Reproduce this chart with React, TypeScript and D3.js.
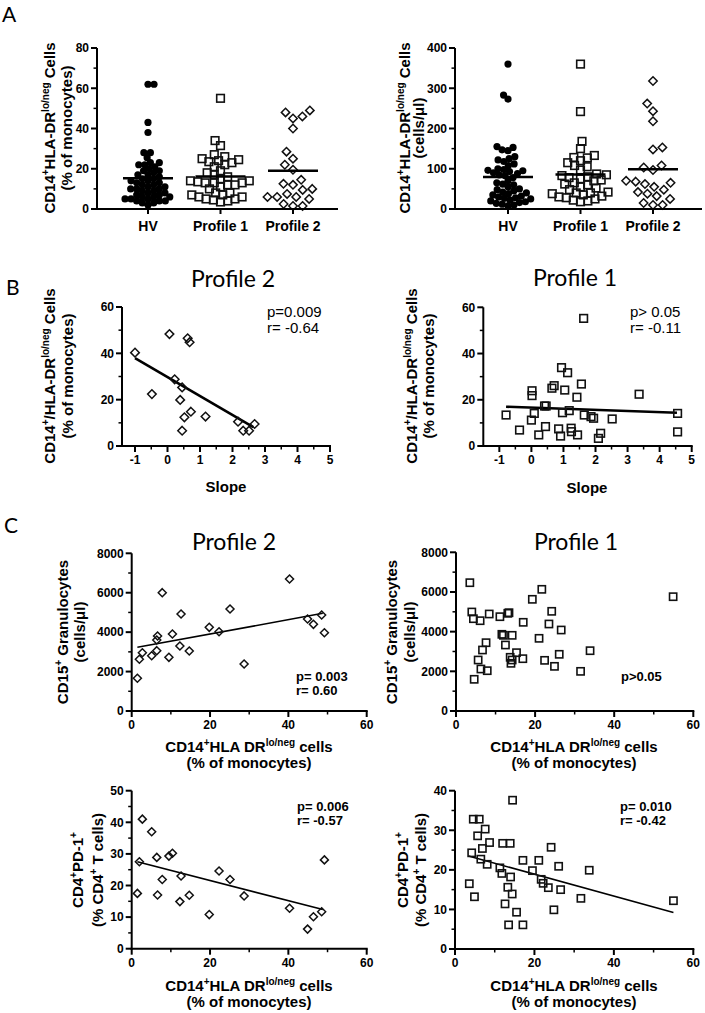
import React from 'react';
import * as d3 from 'd3';

// ---------- Panel A data ----------
const groups = ['HV', 'Profile 1', 'Profile 2'];
const pctHV = [62, 62, 43, 38, 28, 28, 25.5, 23, 23, 22, 22, 21, 20, 19, 19, 18, 17, 17, 16, 15, 15, 14, 14, 13, 13, 12, 12, 11, 11, 10, 10, 10, 9, 9, 8, 8, 7, 7, 6, 6, 6, 5, 5, 5, 4, 4, 4, 3, 3, 2];
const pctP1 = [55, 34, 31.5, 27, 26, 25, 24.5, 24, 23.5, 23, 22, 21, 19, 18, 17, 16, 15, 14, 14, 13.5, 13, 13, 13, 12, 12, 11, 10, 8, 8, 7, 7, 6, 6, 5, 5, 4.5, 4, 3.5];
const pctP2 = [49, 48, 46, 45, 40, 28.5, 25, 22, 19.5, 14.5, 12.5, 12, 10, 9.5, 7.5, 6, 6, 6, 5, 2.5, 1.5, 1.5];
const pctMeans = [15.3, 16.2, 19.0];
const cellsHV = [360, 283, 273, 155, 153, 147, 145, 130, 125, 122, 118, 112, 108, 100, 98, 96, 95, 93, 90, 88, 85, 83, 78, 70, 65, 62, 60, 55, 50, 48, 45, 42, 40, 38, 35, 32, 30, 28, 27, 25, 22, 20, 18, 16, 14, 12, 10, 8];
const cellsP1 = [360, 242, 168, 150, 133, 128, 127, 120, 115, 108, 105, 97, 87, 85, 83, 80, 78, 75, 72, 70, 65, 62, 60, 55, 52, 48, 42, 40, 40, 38, 35, 32, 30, 28, 25, 22, 20, 18];
const cellsP2 = [318, 262, 243, 218, 153, 148, 108, 103, 97, 70, 68, 65, 62, 55, 48, 42, 38, 32, 25, 15, 10, 10];
const cellsMeans = [79.5, 86, 99];
const pctTicks = [0, 20, 40, 60, 80];
const cellsTicks = [0, 100, 200, 300, 400];

// ---------- Panel B data ----------
const slopeB2 = [-1.0, -0.48, 0.06, 0.22, 0.39, 0.45, 0.45, 0.52, 0.62, 0.68, 0.72, 1.17, 2.17, 2.33, 2.51, 2.68];
const pctB2 = [40.3, 22.4, 48.3, 28.8, 19.9, 25.3, 6.6, 12.4, 46.5, 44.8, 14.8, 12.7, 10.5, 6.6, 6.6, 9.5];
const fitB2x = [-1.0, 2.64];
const fitB2y = [37.9, 8.1];
const slopeB1 = [-0.79, -0.37, 0.0, 0.02, 0.02, 0.09, 0.23, 0.41, 0.46, 0.44, 0.64, 0.71, 0.85, 0.91, 0.94, 0.97, 1.04, 1.13, 1.18, 1.24, 1.25, 1.44, 1.42, 1.56, 1.63, 1.65, 1.86, 1.94, 2.09, 2.16, 2.52, 3.36, 4.56, 4.56];
const pctB1 = [13.4, 6.9, 11.2, 21.8, 23.9, 14.1, 4.8, 17.3, 17.3, 8.4, 25.0, 26.1, 7.4, 4.3, 33.9, 14.4, 24.2, 31.7, 15.3, 7.7, 6.2, 4.8, 21.1, 26.8, 55.2, 13.4, 12.7, 12.0, 3.3, 5.5, 11.7, 22.4, 14.1, 6.1];
const fitB1x = [-0.79, 4.54];
const fitB1y = [17.0, 14.4];
const slopeTicks = [-1, 0, 1, 2, 3, 4, 5];
const pct60Ticks = [0, 20, 40, 60];

// ---------- Panel C data ----------
const cTLx = [1.45, 1.96, 2.72, 5.1, 6.4, 6.4, 6.6, 7.8, 9.5, 10.4, 12.3, 12.6, 14.7, 19.8, 22.3, 25.1, 28.7, 40.3, 44.9, 46.4, 48.5, 49.2];
const cTLy = [1659, 2622, 2958, 2806, 3060, 3602, 3805, 6002, 2722, 3906, 3297, 4921, 3044, 4245, 4023, 5174, 2384, 6697, 4667, 4397, 4870, 3972];
const fitCTLx = [1.45, 48.8];
const fitCTLy = [3231, 4955];
const cTRx = [3.5, 21.7, 19.3, 4.0, 4.4, 6.1, 8.4, 11.1, 13.1, 13.4, 17.0, 24.2, 23.5, 26.6, 11.6, 12.0, 14.2, 21.0, 7.6, 6.7, 12.5, 15.3, 13.7, 14.2, 13.9, 16.9, 5.6, 26.1, 22.4, 24.9, 6.3, 7.9, 4.6, 33.9, 31.5, 54.9];
const cTRy = [6468, 6134, 5630, 4991, 4653, 4552, 4890, 4754, 4925, 4955, 4471, 5025, 4386, 4083, 3866, 3815, 3815, 3664, 3443, 3075, 3327, 2940, 2707, 2571, 2404, 2637, 2571, 2858, 2554, 2251, 2117, 2032, 1598, 3040, 1999, 5762];
const cBLx = [1.45, 1.96, 2.72, 5.1, 6.4, 6.6, 7.8, 9.5, 10.4, 12.3, 12.6, 14.7, 19.8, 22.3, 25.1, 28.7, 40.3, 44.9, 46.4, 48.5, 49.2];
const cBLy = [17.5, 27.5, 41.0, 37.0, 28.9, 17.0, 21.9, 29.3, 30.2, 14.9, 23.0, 16.9, 10.8, 24.6, 21.9, 16.7, 12.8, 6.2, 10.1, 11.7, 28.1];
const fitCBLx = [1.45, 48.8];
const fitCBLy = [27.5, 12.4];
const cBRx = [14.5, 4.6, 6.1, 7.6, 5.7, 8.7, 6.9, 12.0, 13.9, 4.2, 6.5, 8.1, 24.2, 17.1, 21.1, 11.3, 11.8, 19.5, 26.1, 33.8, 14.0, 21.7, 22.2, 23.5, 26.6, 13.3, 14.4, 3.6, 4.9, 12.6, 31.7, 15.5, 24.9, 13.5, 17.1, 55.0];
const cBRy = [37.6, 32.8, 32.8, 30.3, 28.6, 26.9, 25.4, 26.7, 26.7, 24.3, 22.7, 21.4, 25.7, 22.4, 22.4, 20.5, 19.1, 19.8, 20.9, 19.9, 18.2, 17.6, 16.6, 15.5, 15.0, 15.6, 13.9, 16.5, 13.2, 11.4, 12.8, 9.3, 9.9, 6.1, 6.1, 12.2];
const fitCBRx = [3.4, 55.0];
const fitCBRy = [23.5, 9.2];
const cdTicks = [0, 20, 40, 60];
const granTicks = [0, 2000, 4000, 6000, 8000];
const pd50Ticks = [0, 10, 20, 30, 40, 50];
const pd40Ticks = [0, 10, 20, 30, 40];

const AF = '"Liberation Sans", Arial, Helvetica, sans-serif';
const TF = 'Lato, "Open Sans", sans-serif';

type MarkerType = 'circle' | 'square' | 'diamond';

function Marker({ type, x, y, s }: { type: MarkerType; x: number; y: number; s: number }) {
  if (type === 'circle') return <circle cx={x} cy={y} r={s / 2} fill="#000" />;
  if (type === 'square')
    return <rect x={x - s / 2} y={y - s / 2} width={s} height={s} fill="none" stroke="#111" strokeWidth={1.6} />;
  const h = s / 2;
  return (
    <path d={`M${x},${y - h}L${x + h},${y}L${x},${y + h}L${x - h},${y}Z`} fill="none" stroke="#111" strokeWidth={1.5} />
  );
}

function YAxis({ x, scale, ticks, minor, fs = 12 }: { x: number; scale: any; ticks: number[]; minor: number[]; fs?: number }) {
  const [a, b] = scale.range();
  return (
    <g>
      <line x1={x} x2={x} y1={a + 1} y2={b} stroke="#000" strokeWidth={2} />
      {ticks.map((t) => (
        <g key={'t' + t}>
          <line x1={x - 6} x2={x} y1={scale(t)} y2={scale(t)} stroke="#000" strokeWidth={2} />
          <text x={x - 8} y={scale(t) + 4.3} textAnchor="end" fontFamily={AF} fontWeight="bold" fontSize={fs}>
            {String(t)}
          </text>
        </g>
      ))}
      {minor.map((t) => (
        <line key={'m' + t} x1={x - 3.5} x2={x} y1={scale(t)} y2={scale(t)} stroke="#000" strokeWidth={1.5} />
      ))}
    </g>
  );
}

function XAxis({ y, scale, ticks, minor, x0, fs = 12 }: { y: number; scale: any; ticks: number[]; minor: number[]; x0: number; fs?: number }) {
  const [, b] = scale.range();
  return (
    <g>
      <line x1={x0 - 1} x2={b + 1} y1={y} y2={y} stroke="#000" strokeWidth={2} />
      {ticks.map((t) => (
        <g key={'t' + t}>
          <line x1={scale(t)} x2={scale(t)} y1={y} y2={y + 6} stroke="#000" strokeWidth={2} />
          <text x={scale(t)} y={y + 18} textAnchor="middle" fontFamily={AF} fontWeight="bold" fontSize={fs}>
            {String(t)}
          </text>
        </g>
      ))}
      {minor.map((t) => (
        <line key={'m' + t} x1={scale(t)} x2={scale(t)} y1={y} y2={y + 3.5} stroke="#000" strokeWidth={1.5} />
      ))}
    </g>
  );
}

function swarm(vals: number[], y: (v: number) => number, d: number): number[] {
  const idx = vals.map((_, i) => i).sort((a, b) => vals[a] - vals[b]);
  const placed: { x: number; y: number }[] = [];
  const out = new Array(vals.length).fill(0);
  let flip = 1;
  for (const i of idx) {
    const py = y(vals[i]);
    const near = placed.filter((p) => Math.abs(p.y - py) < d);
    const cands = [0];
    for (const p of near) {
      const dx = Math.sqrt(d * d - (p.y - py) ** 2);
      cands.push(p.x + dx, p.x - dx);
    }
    cands.sort((a, b) => Math.abs(a) - Math.abs(b) || flip * (a - b));
    let best = 0;
    for (const c of cands) {
      if (near.every((p) => (p.x - c) ** 2 + (p.y - py) ** 2 >= d * d - 0.01)) {
        best = c;
        break;
      }
    }
    flip = -flip;
    placed.push({ x: best, y: py });
    out[i] = best;
  }
  return out;
}

function DotPlot({ x0, x1, yTop, yBot, domainMax, ticks, data, means, catRange }: any) {
  const y = d3.scaleLinear().domain([0, domainMax]).range([yBot, yTop]);
  const xc = d3.scalePoint<string>().domain(groups).range(catRange);
  const minor = ticks.slice(0, -1).map((t: number, i: number) => (t + ticks[i + 1]) / 2);
  const types: MarkerType[] = ['circle', 'square', 'diamond'];
  const sizes = [7.2, 7.6, 8.4];
  const dists = [6.0, 7.4, 9.6];
  return (
    <g>
      {groups.map((g, gi) => {
        const offs = swarm(data[gi], y, dists[gi]);
        const cx = xc(g) as number;
        return (
          <g key={g}>
            {data[gi].map((v: number, i: number) => (
              <Marker key={i} type={types[gi]} x={cx + offs[i]} y={y(v)} s={sizes[gi]} />
            ))}
            <line x1={cx - 25} x2={cx + 25} y1={y(means[gi])} y2={y(means[gi])} stroke="#000" strokeWidth={2.5} />
          </g>
        );
      })}
      <YAxis x={x0} scale={y} ticks={ticks} minor={minor} />
      <line x1={x0 - 1} x2={x1} y1={yBot} y2={yBot} stroke="#000" strokeWidth={2} />
      {groups.map((g) => (
        <g key={'l' + g}>
          <line x1={xc(g)} x2={xc(g)} y1={yBot} y2={yBot + 5} stroke="#000" strokeWidth={2} />
          <text x={(xc(g) as number)} y={231} textAnchor="middle" fontFamily={AF} fontWeight="bold" fontSize={14}>
            {g}
          </text>
        </g>
      ))}
    </g>
  );
}

function Scatter({ x0, x1, yTop, yBot, xDom, yDom, xTicks, xMinor, yTicks, yMinor, xs, ys, type, size, fx, fy, fw }: any) {
  const x = d3.scaleLinear().domain(xDom).range([x0, x1]);
  const y = d3.scaleLinear().domain(yDom).range([yBot, yTop]);
  const line = d3.line<number>().x((_, i) => x(fx[i])).y((_, i) => y(fy[i]));
  return (
    <g>
      {fx && <path d={line([0, 1]) as string} stroke="#000" strokeWidth={fw} fill="none" />}
      {xs.map((v: number, i: number) => (
        <Marker key={i} type={type} x={x(v)} y={y(ys[i])} s={size} />
      ))}
      <YAxis x={x0} scale={y} ticks={yTicks} minor={yMinor} />
      <XAxis y={yBot} scale={x} ticks={xTicks} minor={xMinor} x0={x0} />
    </g>
  );
}

function YLabel({ x1, x2, cy, line1, line2 }: any) {
  return (
    <g fontFamily={AF} fontWeight="bold" fontSize={15} textAnchor="middle">
      <text transform={`translate(${x1},${cy}) rotate(-90)`}>{line1}</text>
      <text transform={`translate(${x2},${cy}) rotate(-90)`}>{line2}</text>
    </g>
  );
}

const lblCD14DR = (
  <>
    CD14<tspan dy={-6} fontSize={10}>+</tspan>
    <tspan dy={6}>HLA-DR</tspan>
    <tspan dy={-6} fontSize={10}>lo/neg</tspan>
    <tspan dy={6}>{' Cells'}</tspan>
  </>
);
const lblCD14sDR = (
  <>
    CD14<tspan dy={-6} fontSize={10}>+</tspan>
    <tspan dy={6}>/HLA-DR</tspan>
    <tspan dy={-6} fontSize={10}>lo/neg</tspan>
    <tspan dy={6}>{' Cells'}</tspan>
  </>
);
const lblCD15 = (
  <>
    CD15<tspan dy={-6} fontSize={10}>+</tspan>
    <tspan dy={6}>{' Granulocytes'}</tspan>
  </>
);
const lblPD1 = (
  <>
    CD4<tspan dy={-6} fontSize={10}>+</tspan>
    <tspan dy={6}>PD-1</tspan>
    <tspan dy={-6} fontSize={10}>+</tspan>
  </>
);
const lblPD1b = (
  <>
    (% CD4<tspan dy={-6} fontSize={10}>+</tspan>
    <tspan dy={6}>{' T cells)'}</tspan>
  </>
);

function XLabelC({ cx, y1 }: { cx: number; y1: number }) {
  return (
    <g fontFamily={AF} fontWeight="bold" fontSize={15} textAnchor="middle">
      <text x={cx} y={y1}>
        CD14<tspan dy={-6} fontSize={10}>+</tspan>
        <tspan dy={6}>HLA DR</tspan>
        <tspan dy={-6} fontSize={10}>lo/neg</tspan>
        <tspan dy={6}>{' cells'}</tspan>
      </text>
      <text x={cx} y={y1 + 16}>(% of monocytes)</text>
    </g>
  );
}

function Annot({ x, y, l1, l2, bold, fs, gap }: any) {
  return (
    <g fontFamily={AF} fontWeight={bold ? 'bold' : 'normal'} fontSize={fs}>
      <text x={x} y={y}>{l1}</text>
      {l2 && <text x={x} y={y + gap}>{l2}</text>}
    </g>
  );
}

export default function App() {
  const minorOf = (t: number[]) => t.slice(0, -1).map((v, i) => (v + t[i + 1]) / 2);
  return (
    <svg width={705} height={1013} style={{ position: 'absolute', left: 0, top: 0, background: '#fff' }}>
      <rect width={705} height={1013} fill="#fff" />
      {/* Panel letters */}
      <g fontFamily={TF} fontSize={21}>
        <text x={2} y={22}>A</text>
        <text x={6} y={295}>B</text>
        <text x={4} y={533}>C</text>
      </g>

      {/* Panel A */}
      <DotPlot x0={97} x1={338} yTop={48} yBot={209} domainMax={80} ticks={pctTicks} data={[pctHV, pctP1, pctP2]} means={pctMeans} catRange={[148, 293]} />
      <YLabel x1={55} x2={72} cy={128} line1={lblCD14DR} line2="(% of monocytes)" />
      <DotPlot x0={455} x1={702} yTop={48} yBot={209} domainMax={400} ticks={cellsTicks} data={[cellsHV, cellsP1, cellsP2]} means={cellsMeans} catRange={[508, 653]} />
      <YLabel x1={410} x2={424} cy={128} line1={lblCD14DR} line2="(cells/μl)" />

      {/* Titles */}
      <g fontFamily={TF} fontSize={23} textAnchor="middle">
        <text x={233} y={287}>Profile 2</text>
        <text x={575} y={286}>Profile 1</text>
        <text x={234} y={550}>Profile 2</text>
        <text x={576} y={550}>Profile 1</text>
      </g>

      {/* Panel B */}
      <Scatter x0={122} x1={330} yTop={307} yBot={446} xDom={[-1.4, 5]} yDom={[0, 60]} xTicks={slopeTicks} xMinor={minorOf(slopeTicks)} yTicks={pct60Ticks} yMinor={minorOf(pct60Ticks)} xs={slopeB2} ys={pctB2} type="diamond" size={8.6} fx={fitB2x} fy={fitB2y} fw={2.6} />
      <YLabel x1={55} x2={73} cy={376} line1={lblCD14sDR} line2="(% of monocytes)" />
      <Annot x={267} y={317} l1="p=0.009" l2="r= -0.64" fs={15} gap={16} />
      <text x={226} y={492} textAnchor="middle" fontFamily={AF} fontWeight="bold" fontSize={15}>Slope</text>

      <Scatter x0={483.3} x1={691.7} yTop={307.3} yBot={446} xDom={[-1.5, 5]} yDom={[0, 60]} xTicks={slopeTicks} xMinor={minorOf(slopeTicks)} yTicks={pct60Ticks} yMinor={minorOf(pct60Ticks)} xs={slopeB1} ys={pctB1} type="square" size={7.6} fx={fitB1x} fy={fitB1y} fw={2.6} />
      <YLabel x1={417} x2={434} cy={376} line1={lblCD14sDR} line2="(% of monocytes)" />
      <Annot x={630} y={317} l1="p> 0.05" l2="r= -0.11" fs={15} gap={16} />
      <text x={587} y={493} textAnchor="middle" fontFamily={AF} fontWeight="bold" fontSize={15}>Slope</text>

      {/* Panel C top */}
      <Scatter x0={131.7} x1={366.7} yTop={553.3} yBot={711} xDom={[0, 60]} yDom={[0, 8000]} xTicks={cdTicks} xMinor={minorOf(cdTicks)} yTicks={granTicks} yMinor={minorOf(granTicks)} xs={cTLx} ys={cTLy} type="diamond" size={8} fx={fitCTLx} fy={fitCTLy} fw={1.6} />
      <YLabel x1={68} x2={85} cy={632} line1={lblCD15} line2="(cells/μl)" />
      <Annot x={296} y={681} l1="p= 0.003" l2="r= 0.60" bold fs={13} gap={14} />
      <XLabelC cx={249} y1={752} />

      <Scatter x0={456} x1={693.3} yTop={552.3} yBot={711} xDom={[0, 60]} yDom={[0, 8000]} xTicks={cdTicks} xMinor={minorOf(cdTicks)} yTicks={granTicks} yMinor={minorOf(granTicks)} xs={cTRx} ys={cTRy} type="square" size={7.2} />
      <YLabel x1={397} x2={415} cy={632} line1={lblCD15} line2="(cells/μl)" />
      <Annot x={621} y={681} l1="p>0.05" bold fs={13} gap={14} />
      <XLabelC cx={574} y1={752} />

      {/* Panel C bottom */}
      <Scatter x0={131.7} x1={366.7} yTop={790.7} yBot={948.7} xDom={[0, 60]} yDom={[0, 50]} xTicks={cdTicks} xMinor={minorOf(cdTicks)} yTicks={pd50Ticks} yMinor={minorOf(pd50Ticks)} xs={cBLx} ys={cBLy} type="diamond" size={8} fx={fitCBLx} fy={fitCBLy} fw={1.6} />
      <YLabel x1={83} x2={103} cy={870} line1={lblPD1} line2={lblPD1b} />
      <Annot x={297} y={811} l1="p= 0.006" l2="r= -0.57" bold fs={13} gap={14} />
      <XLabelC cx={249} y1={991} />

      <Scatter x0={455} x1={693.3} yTop={790.7} yBot={949} xDom={[0, 60]} yDom={[0, 40]} xTicks={cdTicks} xMinor={minorOf(cdTicks)} yTicks={pd40Ticks} yMinor={minorOf(pd40Ticks)} xs={cBRx} ys={cBRy} type="square" size={7.2} fx={fitCBRx} fy={fitCBRy} fw={1.6} />
      <YLabel x1={408} x2={426} cy={870} line1={lblPD1} line2={lblPD1b} />
      <Annot x={620} y={811} l1="p= 0.010" l2="r= -0.42" bold fs={13} gap={14} />
      <XLabelC cx={574} y1={991} />
    </svg>
  );
}
